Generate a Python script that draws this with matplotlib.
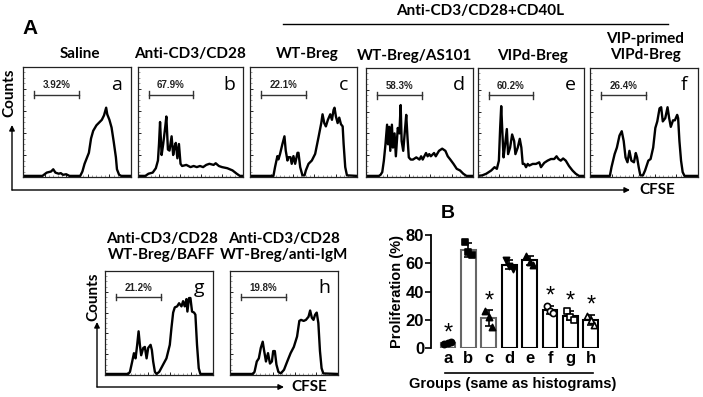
import numpy as np
import matplotlib
matplotlib.use("Agg")
import matplotlib.pyplot as plt

W, H = 703, 397
fig = plt.figure(figsize=(W / 100, H / 100), dpi=100)

# ---------------- data: CFSE histograms (channel %, relative counts) ----------------
a_channel = [0, 18, 22, 26, 28, 30, 33, 35, 37, 40, 43, 53, 55, 57, 59, 61, 63, 65, 68, 71, 73, 75, 77, 78, 80, 82, 84, 86, 87, 89, 91, 100]
a_counts = [0.01, 0.01, 0.04, 0.05, 0.07, 0.04, 0.03, 0.035, 0.02, 0.025, 0.01, 0.01, 0.05, 0.12, 0.17, 0.22, 0.35, 0.42, 0.47, 0.50, 0.52, 0.56, 0.63, 0.57, 0.52, 0.45, 0.32, 0.18, 0.07, 0.02, 0.01, 0.01]

b_channel = [0, 7, 10, 14, 17, 19, 20, 21, 22.5, 24, 26, 27, 28.5, 30, 32, 33.5, 35, 36, 37.5, 39, 40.5, 42, 46, 50, 53, 56, 59, 62, 65, 68, 72, 74, 77, 80, 85, 90, 94, 97, 100]
b_counts = [0.01, 0.01, 0.03, 0.04, 0.08, 0.15, 0.30, 0.50, 0.20, 0.30, 0.46, 0.55, 0.25, 0.24, 0.37, 0.20, 0.28, 0.31, 0.17, 0.30, 0.12, 0.10, 0.11, 0.09, 0.10, 0.09, 0.10, 0.09, 0.11, 0.12, 0.11, 0.125, 0.10, 0.09, 0.08, 0.06, 0.03, 0.01, 0.01]

c_channel = [0, 21.9, 23.4, 25.6, 26.6, 28.1, 30.3, 32.2, 33.4, 35, 35.9, 37.8, 39, 40.6, 42.2, 44.4, 45.3, 46.9, 49, 51, 52.2, 54.7, 57.8, 60.9, 64, 66.6, 67.8, 69.4, 70.9, 72.8, 75, 76.6, 78.1, 79, 80.3, 81.9, 83.4, 85, 86.6, 87.5, 89, 90.6, 100]
c_counts = [0.01, 0.01, 0.09, 0.19, 0.16, 0.21, 0.30, 0.37, 0.24, 0.15, 0.18, 0.18, 0.12, 0.19, 0.12, 0.22, 0.22, 0.09, 0.015, 0.015, 0.06, 0.12, 0.15, 0.21, 0.36, 0.49, 0.57, 0.49, 0.46, 0.52, 0.57, 0.52, 0.61, 0.63, 0.55, 0.49, 0.54, 0.48, 0.46, 0.30, 0.09, 0.015, 0.01]

d_channel = [0, 12, 13.6, 15.2, 16.7, 18.2, 19.7, 20.6, 21.8, 22.7, 24.2, 25.2, 26.7, 27.9, 29.7, 31.2, 32.4, 33.3, 34.8, 36.4, 37.6, 38.8, 40, 41.8, 43.9, 47, 50, 51.5, 53, 54.5, 56.1, 57.6, 59.1, 60.6, 63.6, 65.2, 68.2, 71.2, 74.2, 76.4, 78.8, 81.8, 84.8, 87.9, 90.9, 93.9, 100]
d_counts = [0.01, 0.01, 0.02, 0.045, 0.15, 0.30, 0.48, 0.30, 0.46, 0.24, 0.48, 0.27, 0.40, 0.19, 0.45, 0.40, 0.66, 0.33, 0.24, 0.43, 0.57, 0.36, 0.18, 0.16, 0.16, 0.18, 0.16, 0.19, 0.16, 0.19, 0.22, 0.19, 0.21, 0.19, 0.22, 0.19, 0.24, 0.26, 0.24, 0.19, 0.16, 0.12, 0.075, 0.06, 0.03, 0.01, 0.01]

e_channel = [0, 4, 7.8, 12.5, 15.6, 17.8, 19.7, 20.9, 21.9, 22.8, 24.1, 25.6, 27.2, 28.4, 30.3, 32.2, 34.1, 35.3, 37.5, 39.4, 40.9, 42.2, 43.8, 45.3, 46.9, 48.4, 51.6, 54.7, 57.8, 59.4, 62.5, 65.6, 68.8, 71.9, 74.1, 75.9, 78.1, 80.3, 82.8, 85.9, 89.1, 92.2, 95.3, 100]
e_counts = [0.01, 0.015, 0.03, 0.06, 0.09, 0.075, 0.15, 0.45, 0.65, 0.45, 0.18, 0.30, 0.44, 0.21, 0.27, 0.39, 0.33, 0.21, 0.27, 0.35, 0.27, 0.12, 0.12, 0.09, 0.12, 0.105, 0.12, 0.12, 0.135, 0.09, 0.13, 0.15, 0.165, 0.165, 0.19, 0.165, 0.15, 0.17, 0.15, 0.10, 0.06, 0.03, 0.01, 0.01]

f_channel = [0, 18.4, 19.9, 22.8, 24.9, 27.3, 29.4, 31.2, 32.9, 34.7, 36.5, 38.3, 40.7, 42.4, 43.6, 45.1, 46.6, 49, 51, 54, 56.1, 58.5, 60.5, 62.3, 64.4, 65.9, 67.4, 69.7, 71.8, 73.3, 74.8, 76.9, 78.6, 80.7, 81.6, 82.8, 84.3, 85.8, 87.5, 100]
f_counts = [0.01, 0.01, 0.09, 0.21, 0.27, 0.38, 0.42, 0.33, 0.18, 0.135, 0.24, 0.15, 0.135, 0.22, 0.18, 0.09, 0.015, 0.015, 0.06, 0.15, 0.165, 0.27, 0.45, 0.51, 0.63, 0.64, 0.51, 0.54, 0.64, 0.54, 0.46, 0.52, 0.52, 0.57, 0.54, 0.33, 0.15, 0.045, 0.01, 0.01]

g_channel = [0, 21.5, 23.1, 25.2, 26.8, 28.3, 29.8, 31.1, 32.3, 33.5, 35.4, 36.9, 38.5, 40, 42.2, 43.4, 44.6, 46.2, 47.7, 50.2, 53.8, 56.9, 60, 61.5, 63.1, 64.6, 66.8, 68.6, 70.8, 72.3, 73.8, 75.4, 76.3, 77.8, 79.1, 80.6, 82.5, 83.7, 85.2, 86.8, 88.3, 100]
g_counts = [0.01, 0.01, 0.03, 0.13, 0.21, 0.16, 0.29, 0.42, 0.29, 0.19, 0.26, 0.27, 0.16, 0.26, 0.29, 0.24, 0.13, 0.03, 0.01, 0.03, 0.10, 0.16, 0.29, 0.45, 0.60, 0.65, 0.66, 0.69, 0.66, 0.71, 0.66, 0.73, 0.61, 0.74, 0.74, 0.61, 0.60, 0.58, 0.29, 0.065, 0.01, 0.01]

h_channel = [0, 21.2, 22.7, 24.8, 26.7, 28.5, 30.3, 31.5, 33.3, 35.2, 37, 38.8, 40, 41.5, 43, 44.8, 47, 50, 53, 56.1, 59.1, 62.1, 64.2, 65.8, 68.2, 70.3, 72.7, 74.2, 75.8, 77.3, 78.8, 80.3, 81.8, 83.3, 84.8, 86.4, 100]
h_counts = [0.01, 0.01, 0.03, 0.13, 0.16, 0.26, 0.32, 0.24, 0.13, 0.21, 0.11, 0.13, 0.23, 0.23, 0.10, 0.03, 0.015, 0.05, 0.13, 0.21, 0.27, 0.37, 0.52, 0.53, 0.52, 0.53, 0.56, 0.62, 0.55, 0.53, 0.58, 0.60, 0.50, 0.23, 0.065, 0.015, 0.01]

gate_pct = ["3.92%", "67.9%", "22.1%", "58.3%", "60.2%", "26.4%", "21.2%", "19.8%"]
panel_letters = ["a", "b", "c", "d", "e", "f", "g", "h"]
panel_titles = ["Saline", "Anti-CD3/CD28", "WT-Breg", "WT-Breg/AS101", "VIPd-Breg",
                "VIP-primed\nVIPd-Breg", "Anti-CD3/CD28\nWT-Breg/BAFF", "Anti-CD3/CD28\nWT-Breg/anti-IgM"]

# ---------------- data: panel B ----------------
groups = ["a", "b", "c", "d", "e", "f", "g", "h"]
prolif_mean = [3.5, 69.5, 21, 59, 62, 27, 23, 20]
prolif_reps = [[3.0, 3.5, 4.0], [75, 68, 66], [26, 22, 15], [62, 58, 56],
               [65, 61, 59], [30, 26, 25], [26, 22, 20], [23, 20, 16]]
significant = [True, False, True, False, False, True, True, True]

channels = [a_channel, b_channel, c_channel, d_channel, e_channel, f_channel, g_channel, h_channel]
counts = [a_counts, b_counts, c_counts, d_counts, e_counts, f_counts, g_counts, h_counts]

# ---------------- layout helpers ----------------
def px(l, t, r, b):
    return [l / W, 1 - b / H, (r - l) / W, (b - t) / H]

title_font = dict(family=["Lato", "DejaVu Sans"], fontweight="bold", fontsize=11)
arial_b = dict(family=["Liberation Sans", "DejaVu Sans"], fontweight="bold")

# overlay for annotations in pixel coordinates
ov = fig.add_axes([0, 0, 1, 1], zorder=0)
ov.set_xlim(0, W)
ov.set_ylim(H, 0)
ov.axis("off")

boxes = [(23, 67, 131, 177), (138, 67, 243, 177), (250, 67, 357, 177), (366, 68, 473, 177),
         (478, 68, 584, 177), (590, 68, 698, 177), (105, 271, 213, 375), (230, 271, 338, 375)]
title_pos = [(80, 54), (190, 54), (307, 54), (415, 56), (532, 56), (645, 47), (162, 247), (284, 247)]

for i in range(8):
    ax = fig.add_axes(px(*boxes[i]), zorder=2)
    ax.plot(channels[i], counts[i], color="black", lw=1.7, solid_joinstyle="round")
    ax.set_xlim(0, 100)
    ax.set_ylim(0, 1)
    for s in ax.spines.values():
        s.set_linewidth(0.9)
        s.set_color("#222222")
    ax.set_xticks(np.arange(0, 101, 20))
    ax.set_xticks(np.arange(0, 101, 4), minor=True)
    ax.set_yticks(np.arange(0, 1.01, 0.2))
    ax.set_yticks(np.arange(0, 1.01, 0.05), minor=True)
    ax.tick_params(which="major", direction="in", length=2.5, width=0.6, labelbottom=False, labelleft=False)
    ax.tick_params(which="minor", direction="in", length=1.2, width=0.5, color="#777777")
    # gate
    ax.plot([10, 52], [0.75, 0.75], color="#333333", lw=1.0)
    ax.plot([10, 10], [0.72, 0.78], color="#333333", lw=1.0)
    ax.plot([52, 52], [0.72, 0.78], color="#333333", lw=1.0)
    ax.text(31, 0.79, gate_pct[i], ha="center", va="bottom", fontsize=7, fontweight="bold",
            family=["Liberation Sans", "DejaVu Sans"], color="#222222")
    ax.text(87, 0.84, panel_letters[i], ha="center", va="center", fontsize=14,
            family=["Open Sans", "DejaVu Sans"])
    tx, ty = title_pos[i]
    ov.text(tx, ty, panel_titles[i], ha="center", va="center", linespacing=1.25, **title_font)

# top group label
ov.text(480, 11, "Anti-CD3/CD28+CD40L", ha="center", va="center", **title_font)
ov.plot([283, 668], [24, 24], color="black", lw=1.0)
ov.text(30, 28, "A", ha="center", va="center", fontsize=15, **arial_b)

# axis arrows top row
arrow = dict(arrowstyle="-|>", lw=1.0, color="black", mutation_scale=8, shrinkA=0, shrinkB=0)
ov.annotate("", xy=(630, 190), xytext=(12, 190), arrowprops=arrow)
ov.annotate("", xy=(12, 125), xytext=(12, 190), arrowprops=arrow)
ov.text(9, 93, "Counts", rotation=90, ha="center", va="center", **title_font)
ov.text(657, 190, "CFSE", ha="center", va="center", **title_font)

# axis arrows bottom row
ov.annotate("", xy=(284, 387), xytext=(97, 387), arrowprops=arrow)
ov.annotate("", xy=(97, 322), xytext=(97, 387), arrowprops=arrow)
ov.text(93, 297, "Counts", rotation=90, ha="center", va="center", **title_font)
ov.text(309, 387, "CFSE", ha="center", va="center", **title_font)

# ---------------- panel B ----------------
axb = fig.add_axes(px(431, 235, 599, 348), zorder=2)
xpos = np.arange(len(groups))
edge_cols = ["#666666", "#666666", "#666666", "black", "black", "black", "black", "black"]
axb.bar(xpos, prolif_mean, width=0.72, color="white", edgecolor=edge_cols, linewidth=1.5, zorder=2)
markers = ["o", "s", "^", "v", "^", "o", "s", "^"]
filled = [True, True, True, True, True, False, False, False]
offsets = [-0.17, 0.0, 0.17]
for i, reps in enumerate(prolif_reps):
    reps = np.array(reps)
    sd = reps.std(ddof=1)
    axb.errorbar(i, prolif_mean[i], yerr=sd, color="black", capsize=3, lw=1.2, capthick=1.2, zorder=3)
    axb.scatter(i + np.array(offsets), reps, marker=markers[i], s=20,
                facecolor="black" if filled[i] else "white", edgecolor="black", lw=1.2, zorder=4)
    if significant[i]:
        axb.text(i, prolif_mean[i] + sd + 6.5, "*", ha="center", va="center", fontsize=17,
                 family=["Liberation Sans", "DejaVu Sans"], clip_on=False)
axb.set_xlim(-0.83, 7.4)
axb.set_ylim(0, 80)
axb.set_yticks([0, 20, 40, 60, 80])
axb.set_xticks(xpos)
axb.set_xticklabels(groups)
for lab in axb.get_xticklabels() + axb.get_yticklabels():
    lab.set_fontweight("bold")
    lab.set_fontsize(12)
    lab.set_family(["Liberation Sans", "DejaVu Sans"])
axb.tick_params(axis="x", length=0, pad=2)
axb.tick_params(axis="y", length=4, width=1.2, pad=1)
axb.spines["top"].set_visible(False)
axb.spines["right"].set_visible(False)
axb.spines["bottom"].set_visible(False)
axb.spines["left"].set_linewidth(1.3)
axb.patch.set_alpha(0)
axb.set_ylabel("Proliferation (%)", fontsize=10.5, labelpad=1, **arial_b)

ov.plot([445, 593], [373, 373], color="black", lw=1.2)
ov.text(513, 384, "Groups (same as histograms)", ha="center", va="center", fontsize=10.5, **arial_b)
ov.text(448, 214, "B", ha="center", va="center", fontsize=14, **arial_b)

fig.savefig("out.png", dpi=100)
